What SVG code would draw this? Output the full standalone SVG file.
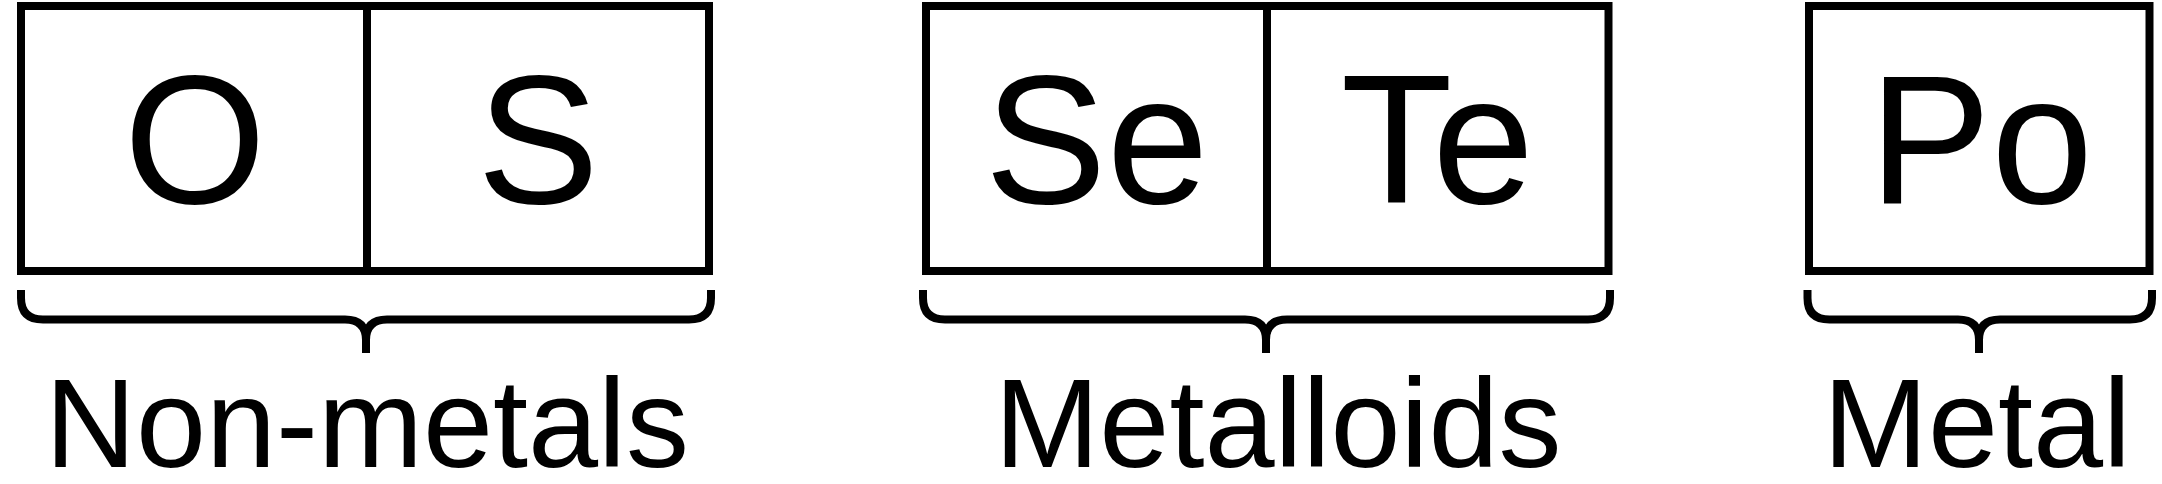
<svg xmlns="http://www.w3.org/2000/svg" width="2162" height="484" viewBox="0 0 2162 484">
<style>
.box{fill:none;stroke:#000;stroke-width:8}
.div{stroke:#000;stroke-width:8}
.brace{fill:none;stroke:#000;stroke-width:8;stroke-linejoin:round}
.sym{font-family:"Liberation Sans",Arial,sans-serif;font-size:183px;text-anchor:middle;fill:#000}
.lab{font-family:"Liberation Sans",Arial,sans-serif;font-size:126px;text-anchor:middle;fill:#000}
</style>
<rect width="2162" height="484" fill="#fff"/>
<g id="nonmetals">
<rect class="box" x="21" y="6" width="688" height="265"/>
<line class="div" x1="367" y1="6" x2="367" y2="271"/>
<text class="sym" x="195" y="203">O</text>
<text class="sym" x="538" y="203">S</text>
<text class="lab" x="367" y="467">Non-metals</text>
</g>
<g id="metalloids">
<rect class="box" x="926" y="6" width="682.5" height="265"/>
<line class="div" x1="1267" y1="6" x2="1267" y2="271"/>
<text class="sym" x="1096.5" y="203">Se</text>
<text class="sym" x="1437.5" y="203">Te</text>
<text class="lab" x="1278" y="467">Metalloids</text>
</g>
<g id="metal">
<rect class="box" x="1809" y="6" width="340.5" height="265"/>
<text class="sym" x="1981" y="203">Po</text>
<text class="lab" x="1977" y="467">Metal</text>
</g>
<g id="connectors">
<path class="brace" d="M21,290 V298 Q21,319.5 43,319.5 H345 Q366,319.5 366,340 V353 M711,290 V298 Q711,319.5 689,319.5 H387 Q366,319.5 366,340"/>
<path class="brace" d="M923,290 V298 Q923,319.5 945,319.5 H1245 Q1266,319.5 1266,340 V353 M1610,290 V298 Q1610,319.5 1588,319.5 H1287 Q1266,319.5 1266,340"/>
<path class="brace" d="M1807.5,290 V298 Q1807.5,319.5 1829.5,319.5 H1958 Q1979,319.5 1979,340 V353 M2152,290 V298 Q2152,319.5 2130,319.5 H2000 Q1979,319.5 1979,340"/>
</g>
</svg>
